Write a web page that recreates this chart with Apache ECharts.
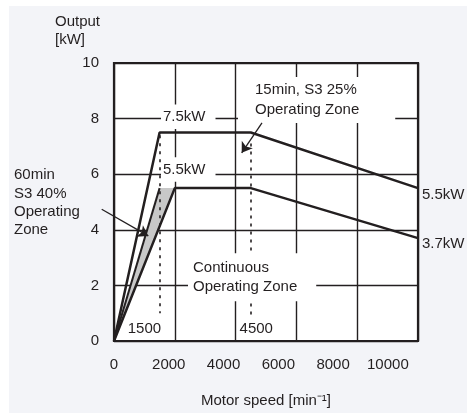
<!DOCTYPE html>
<html>
<head>
<meta charset="utf-8">
<script src="https://cdn.jsdelivr.net/npm/echarts@6/dist/echarts.min.js"></script>
<style>
	html, body { margin: 0; padding: 0; background: #fff; }
	#chart { width: 467px; height: 413px; }
</style>
</head>
<body>
<div id="chart"></div>
<script>
// 15min, S3 25% curve
var speed15 = [0, 1500, 4500, 10000]
var output15 = [0, 7.5, 7.5, 5.5]
// continuous curve
var speedCont = [0, 2000, 4500, 10000]
var outputCont = [0, 5.5, 5.5, 3.7]
// 60min, S3 40% edge
var speed60 = [0, 1500]
var output60 = [0, 5.5]
// shaded 60min zone
var shadeSpeed = [0, 1500, 2000]
var shadeOutput = [0, 5.5, 5.5]
// dotted markers at 1500 / 4500
var markSpeed = [1500, 4500]
var markTop = [7.4, 7.1]
var markBottom = [1.0, 0.95]
// in-plot notes
var noteText = ['7.5kW', '5.5kW', '15min, S3 25%\nOperating Zone', 'Continuous\nOperating Zone', '1500', '4500']
var noteSpeed = [1546, 1546, 4079, 2434, 1000, 4680]
var noteOutput = [8.07, 6.17, 8.67, 2.29, 0.45, 0.45]
// arrows [from, to]
var arrowFrom = [[4868, 7.85], [-405, 4.74]]
var arrowTo = [[4201, 6.77], [1128, 3.78]]
// tick labels
var xTicks = [0, 2000, 4000, 6000, 8000, 10000]
var yTicks = [0, 2, 4, 6, 8, 10]

var ink = '#231f20'
var font = 'Liberation Sans, Arial, Helvetica, sans-serif'
var notePad = [[3, 10, 3, 2], [3, 10, 3, 2], [4, 36, 3, 17], [6, 19, 5, 5], [0, 0, 0, 0], [0, 0, 0, 0]]
var noteBg = ['#fff', '#fff', '#fff', '#fff', 'transparent', 'transparent']
var noteCenter = [false, false, false, false, true, true]

function pairs(xs, ys) {
	return xs.map(function (x, i) { return [x, ys[i]] })
}

var chart = echarts.init(document.getElementById('chart'))

var option = {
	animation: false,
	textStyle: { fontFamily: font, color: ink },
	graphic: [
		{ type: 'rect', z: -10, shape: { x: 9, y: 6, width: 460, height: 410 }, style: { fill: '#f3f4f8' } },
		{
			type: 'text', left: 55, top: 13,
			style: { text: 'Output\n[kW]', font: '15px ' + font, fill: ink, lineHeight: 18 },
		},
		{
			type: 'text', left: 14, top: 166,
			style: { text: '60min\nS3 40%\nOperating\nZone', font: '15px ' + font, fill: ink, lineHeight: 18.3 },
		},
	],
	grid: {
		left: 114, top: 63, width: 304, height: 280,
		show: true, backgroundColor: '#fff', borderColor: ink, borderWidth: 2.2,
	},
	xAxis: [
		{
			type: 'value', min: 0, max: 10000, interval: 2000,
			axisLine: { show: false }, axisTick: { show: false }, axisLabel: { show: false },
			splitLine: { show: true, lineStyle: { color: ink, width: 1.4 } },
			name: 'Motor speed [min\u207B\u00B9]', nameLocation: 'middle', nameGap: 52,
			nameTextStyle: { fontSize: 15, color: ink, fontFamily: font },
		},
		{
			type: 'value', min: 0, max: 11100, interval: 2000, position: 'bottom',
			axisLine: { show: false }, axisTick: { show: false }, splitLine: { show: false },
			axisLabel: {
				fontSize: 15, color: ink, margin: 16,
				formatter: function (v) { return xTicks.indexOf(v) >= 0 ? String(v) : '' },
			},
		},
	],
	yAxis: {
		type: 'value', min: 0, max: 10, interval: 2,
		axisLine: { show: false }, axisTick: { show: false },
		axisLabel: {
			fontSize: 15, color: ink, margin: 15,
			formatter: function (v) { return yTicks.indexOf(v) >= 0 ? String(v) : '' },
		},
		splitLine: { show: true, lineStyle: { color: ink, width: 1.4 } },
	},
	series: [
		{
			name: 'shade', type: 'custom', z: 1, silent: true,
			data: pairs(shadeSpeed, shadeOutput),
			renderItem: function (params, api) {
				if (params.dataIndex !== 0) return
				var pts = shadeSpeed.map(function (s, i) { return api.coord([s, shadeOutput[i]]) })
				return { type: 'polygon', shape: { points: pts }, style: { fill: '#c8c8c8' } }
			},
		},
		{
			name: 'marks', type: 'lines', coordinateSystem: 'cartesian2d', z: 2, silent: true,
			data: markSpeed.map(function (s, i) { return { coords: [[s, markTop[i]], [s, markBottom[i]]] } }),
			lineStyle: { color: ink, width: 1.6, type: [3, 5], opacity: 1 },
		},
		{
			name: 'notes', type: 'scatter', z: 3, silent: true, clip: false,
			symbolSize: 0,
			itemStyle: { opacity: 1 },
			data: noteText.map(function (t, i) {
				return {
					value: [noteSpeed[i], noteOutput[i]],
					label: {
						show: true, formatter: t,
						position: noteCenter[i] ? 'inside' : 'right', distance: 0,
						align: noteCenter[i] ? 'center' : 'left',
						fontSize: 15, color: ink, fontFamily: font, opacity: 1,
						lineHeight: i === 2 ? 19.5 : 18.5,
						backgroundColor: noteBg[i], padding: notePad[i],
					},
				}
			}),
		},
		{
			name: '15min, S3 25%', type: 'line', z: 4, silent: true,
			data: pairs(speed15, output15), symbol: 'none',
			lineStyle: { color: ink, width: 2.5 },
			endLabel: { show: true, formatter: '5.5kW', fontSize: 15, color: ink, distance: 4, offset: [0, 7] },
		},
		{
			name: 'Continuous', type: 'line', z: 4, silent: true,
			data: pairs(speedCont, outputCont), symbol: 'none',
			lineStyle: { color: ink, width: 2.5 },
			endLabel: { show: true, formatter: '3.7kW', fontSize: 15, color: ink, distance: 4, offset: [0, 6] },
		},
		{
			name: '60min, S3 40%', type: 'line', z: 4, silent: true,
			data: pairs(speed60, output60), symbol: 'none',
			lineStyle: { color: ink, width: 2 },
		},
		{
			name: 'arrows', type: 'lines', coordinateSystem: 'cartesian2d', z: 5, silent: true, clip: false,
			data: arrowFrom.map(function (f, i) { return { coords: [f, arrowTo[i]] } }),
			symbol: ['none', 'arrow'], symbolSize: [0, 10],
			lineStyle: { color: ink, width: 1.3, opacity: 1 },
			itemStyle: { color: ink },
		},
	],
}

option && chart.setOption(option)
</script>
</body>
</html>
